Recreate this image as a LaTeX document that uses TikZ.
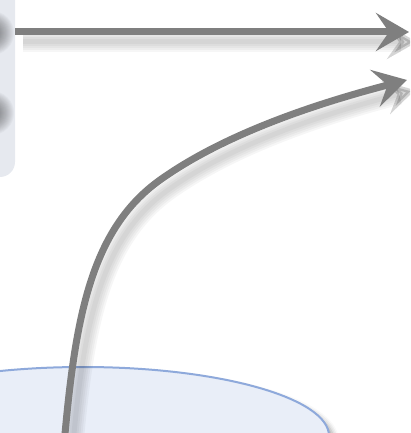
\documentclass[tikz,border=0pt]{standalone}
\usetikzlibrary{arrows.meta,shadows.blur}
\definecolor{arrowgray}{HTML}{7F7F7F}
\definecolor{panelgray}{HTML}{E6E9EF}
\definecolor{ellfill}{HTML}{E9EEF8}
\definecolor{ellline}{HTML}{8EA9DB}
\tikzset{
  bigarrow/.style={draw=arrowgray, line width=7pt, -{Stealth[length=33pt,width=38pt,inset=13pt]}},
  arrowshadow/.style={draw=black, line width=#1, opacity=0.035, transform canvas={xshift=8pt,yshift=-10pt}, -{Stealth[length=30pt,width=34pt,inset=12pt]}},
  panel/.style={fill=panelgray, rounded corners=15pt},
  blobring/.style={fill=black, opacity=0.028},
  basin/.style={fill=ellfill, draw=ellline, line width=2pt, blur shadow={shadow xshift=5pt, shadow yshift=-5pt, shadow blur radius=5pt, shadow opacity=35}}
}
\begin{document}
\begin{tikzpicture}[x=1pt,y=-1pt]
\useasboundingbox (0,0) rectangle (410,433);
\clip (0,0) rectangle (410,433);
% left panel
\path[panel] (-30,-30) rectangle (15,177);
\begin{scope}
  \clip[rounded corners=15pt] (-30,-30) rectangle (15,177);
  \foreach \r in {4,5,...,22}{
    \fill[blobring] (-8,33) circle (\r);
    \fill[blobring] (-8,113) circle (\r);
  }
\end{scope}
% bottom ellipse
\path[basin] (83,436) ellipse [x radius=246pt, y radius=69pt];
% coordinates
\coordinate (a1s) at (15,32);
\coordinate (a1e) at (409,32);
\coordinate (a2s) at (64,445);
\coordinate (a2m) at (160,180);
\coordinate (a2e) at (407,80);
% shadows
\foreach \w in {21pt,17pt,13pt,9pt,5pt}{
  \draw[arrowshadow=\w] (a1s) -- (a1e);
  \draw[arrowshadow=\w] (a2s) .. controls (75,320) and (90,230) .. (a2m) .. controls (230,130) and (330,100) .. (a2e);
}
% arrows
\draw[bigarrow] (a1s) -- (a1e);
\draw[bigarrow] (a2s) .. controls (75,320) and (90,230) .. (a2m) .. controls (230,130) and (330,100) .. (a2e);
\end{tikzpicture}
\end{document}
